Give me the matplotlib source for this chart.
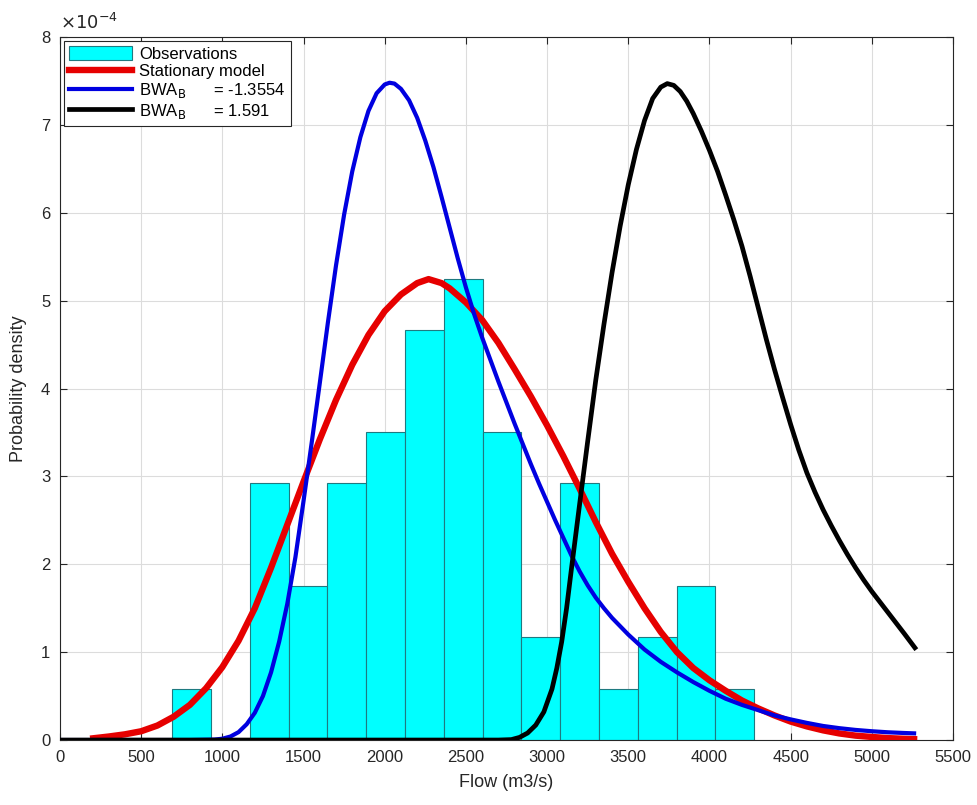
import matplotlib
matplotlib.use("Agg")
import matplotlib.pyplot as plt
from matplotlib.patches import Patch
from matplotlib.lines import Line2D

plt.rcParams['font.family'] = ['Liberation Sans', 'DejaVu Sans']

# histogram of observations (density, in units of 1e-4)
bin_edges = [691, 930, 1169, 1408, 1647, 1886, 2125, 2364, 2603,
             2842, 3081, 3320, 3559, 3798, 4037, 4276]
bin_heights = [0.58, 0.0, 2.92, 1.75, 2.92, 3.50, 4.67, 5.25, 3.50,
               1.17, 2.92, 0.58, 1.17, 1.75, 0.58]

# stationary model (red)
red_x = [205, 300, 400, 500, 600, 700, 800, 900, 1000, 1100, 1200, 1300,
         1400, 1500, 1600, 1700, 1800, 1900, 2000, 2100, 2200, 2270, 2350,
         2400, 2500, 2600, 2700, 2800, 2900, 3000, 3100, 3200, 3300, 3400,
         3500, 3600, 3700, 3800, 3900, 4000, 4100, 4200, 4300, 4400, 4500,
         4600, 4700, 4800, 4900, 5000, 5100, 5200, 5260]
red_y = [0.02, 0.04, 0.065, 0.10, 0.165, 0.265, 0.40, 0.59, 0.83, 1.13,
         1.50, 1.96, 2.45, 2.94, 3.42, 3.87, 4.27, 4.61, 4.88, 5.07, 5.20,
         5.245, 5.20, 5.14, 4.98, 4.78, 4.52, 4.22, 3.91, 3.58, 3.23, 2.86,
         2.48, 2.12, 1.80, 1.50, 1.23, 1.00, 0.82, 0.68, 0.56, 0.45, 0.36,
         0.28, 0.21, 0.155, 0.11, 0.075, 0.05, 0.035, 0.022, 0.014, 0.01]

# BWA_B = -1.3554 (blue)
blue_x = [0, 800, 950, 1000, 1050, 1100, 1150, 1200, 1250, 1300, 1350, 1400,
          1450, 1500, 1550, 1600, 1650, 1700, 1750, 1800, 1850, 1900, 1950,
          2000, 2030, 2060, 2100, 2150, 2200, 2250, 2300, 2350, 2400, 2450,
          2500, 2550, 2600, 2650, 2700, 2750, 2800, 2850, 2900, 2950, 3000,
          3050, 3100, 3150, 3200, 3250, 3300, 3350, 3400, 3500, 3600, 3700,
          3800, 3900, 4000, 4100, 4200, 4300, 4400, 4500, 4600, 4700, 4800,
          4900, 5000, 5100, 5200, 5260]
blue_y = [0.0, 0.0, 0.005, 0.015, 0.04, 0.09, 0.18, 0.31, 0.50, 0.77, 1.12,
          1.55, 2.08, 2.72, 3.38, 4.06, 4.75, 5.40, 5.98, 6.47, 6.86, 7.16,
          7.36, 7.46, 7.48, 7.47, 7.41, 7.28, 7.08, 6.82, 6.52, 6.18, 5.83,
          5.48, 5.15, 4.85, 4.58, 4.33, 4.08, 3.84, 3.60, 3.37, 3.14, 2.92,
          2.71, 2.50, 2.30, 2.10, 1.92, 1.76, 1.62, 1.50, 1.39, 1.20, 1.03,
          0.89, 0.77, 0.66, 0.56, 0.47, 0.40, 0.34, 0.28, 0.235, 0.195, 0.16,
          0.135, 0.115, 0.10, 0.088, 0.08, 0.076]

# BWA_B = 1.591 (black)
black_x = [0, 2700, 2780, 2830, 2880, 2930, 2980, 3030, 3060, 3090, 3120,
           3150, 3200, 3250, 3300, 3350, 3400, 3450, 3500, 3550, 3600, 3650,
           3700, 3740, 3780, 3820, 3860, 3900, 3950, 4000, 4050, 4100, 4150,
           4200, 4250, 4300, 4350, 4400, 4450, 4500, 4550, 4600, 4650, 4700,
           4750, 4800, 4850, 4900, 4950, 5000, 5050, 5100, 5150, 5200, 5265]
black_y = [0.0, 0.0, 0.005, 0.03, 0.08, 0.17, 0.32, 0.58, 0.82, 1.12, 1.50,
           1.95, 2.68, 3.40, 4.10, 4.73, 5.32, 5.85, 6.32, 6.72, 7.05, 7.30,
           7.43, 7.47, 7.45, 7.38, 7.27, 7.13, 6.93, 6.71, 6.47, 6.20, 5.92,
           5.62, 5.28, 4.92, 4.56, 4.22, 3.90, 3.59, 3.30, 3.04, 2.82, 2.62,
           2.44, 2.27, 2.11, 1.96, 1.82, 1.69, 1.57, 1.45, 1.33, 1.21, 1.05]

x_ticks = [0, 500, 1000, 1500, 2000, 2500, 3000, 3500, 4000, 4500, 5000, 5500]
y_ticks = [0, 1, 2, 3, 4, 5, 6, 7, 8]

fig = plt.figure(figsize=(9.78, 8.05), dpi=100)
ax = fig.add_axes([0.0613, 0.0807, 0.9132, 0.8733])

widths = [bin_edges[i + 1] - bin_edges[i] for i in range(len(bin_heights))]
ax.bar(bin_edges[:-1], bin_heights, width=widths, align='edge',
       color='#00FFFF', edgecolor='#1f7a80', linewidth=0.8, zorder=2)
ax.plot(red_x, red_y, color='#e60000', linewidth=4.6, zorder=3,
        solid_joinstyle='round')
ax.plot(blue_x, blue_y, color='#0000e0', linewidth=3.0, zorder=4,
        solid_joinstyle='round')
ax.plot(black_x, black_y, color='black', linewidth=3.4, zorder=5,
        solid_joinstyle='round')

ax.set_xlim(0, 5500)
ax.set_ylim(0, 8)
ax.set_xticks(x_ticks)
ax.set_yticks(y_ticks)
ax.tick_params(direction='in', top=True, right=True, labelsize=12,
               length=5, width=0.8, colors='#262626', pad=7)
ax.grid(True, color='#dcdcdc', linewidth=0.8, zorder=0)
ax.set_axisbelow(True)
for s in ax.spines.values():
    s.set_color('#262626')
    s.set_linewidth(0.8)

ax.set_xlabel('Flow (m3/s)', fontsize=13, color='#262626', labelpad=7)
ax.set_ylabel('Probability density', fontsize=13, color='#262626', labelpad=10)
ax.text(0.0, 1.006, r'$\times10^{-4}$', transform=ax.transAxes,
        fontsize=13, color='#262626', ha='left', va='bottom')

handles = [Patch(facecolor='#00FFFF', edgecolor='#1f7a80', linewidth=0.8),
           Line2D([], [], color='#e60000', linewidth=4.6),
           Line2D([], [], color='#0000e0', linewidth=3.0),
           Line2D([], [], color='black', linewidth=3.4)]
labels = ['Observations', 'Stationary model',
          'BWA$_\\mathrm{B}$      = -1.3554', 'BWA$_\\mathrm{B}$      = 1.591']
leg = ax.legend(handles, labels, loc='upper left', fontsize=12,
                fancybox=False, framealpha=1, edgecolor='#262626',
                handlelength=3.8, handleheight=0.9, borderaxespad=0.25,
                labelspacing=0.1, borderpad=0.3, handletextpad=0.4)
leg.get_frame().set_linewidth(0.8)

fig.savefig('out.png', dpi=100)
